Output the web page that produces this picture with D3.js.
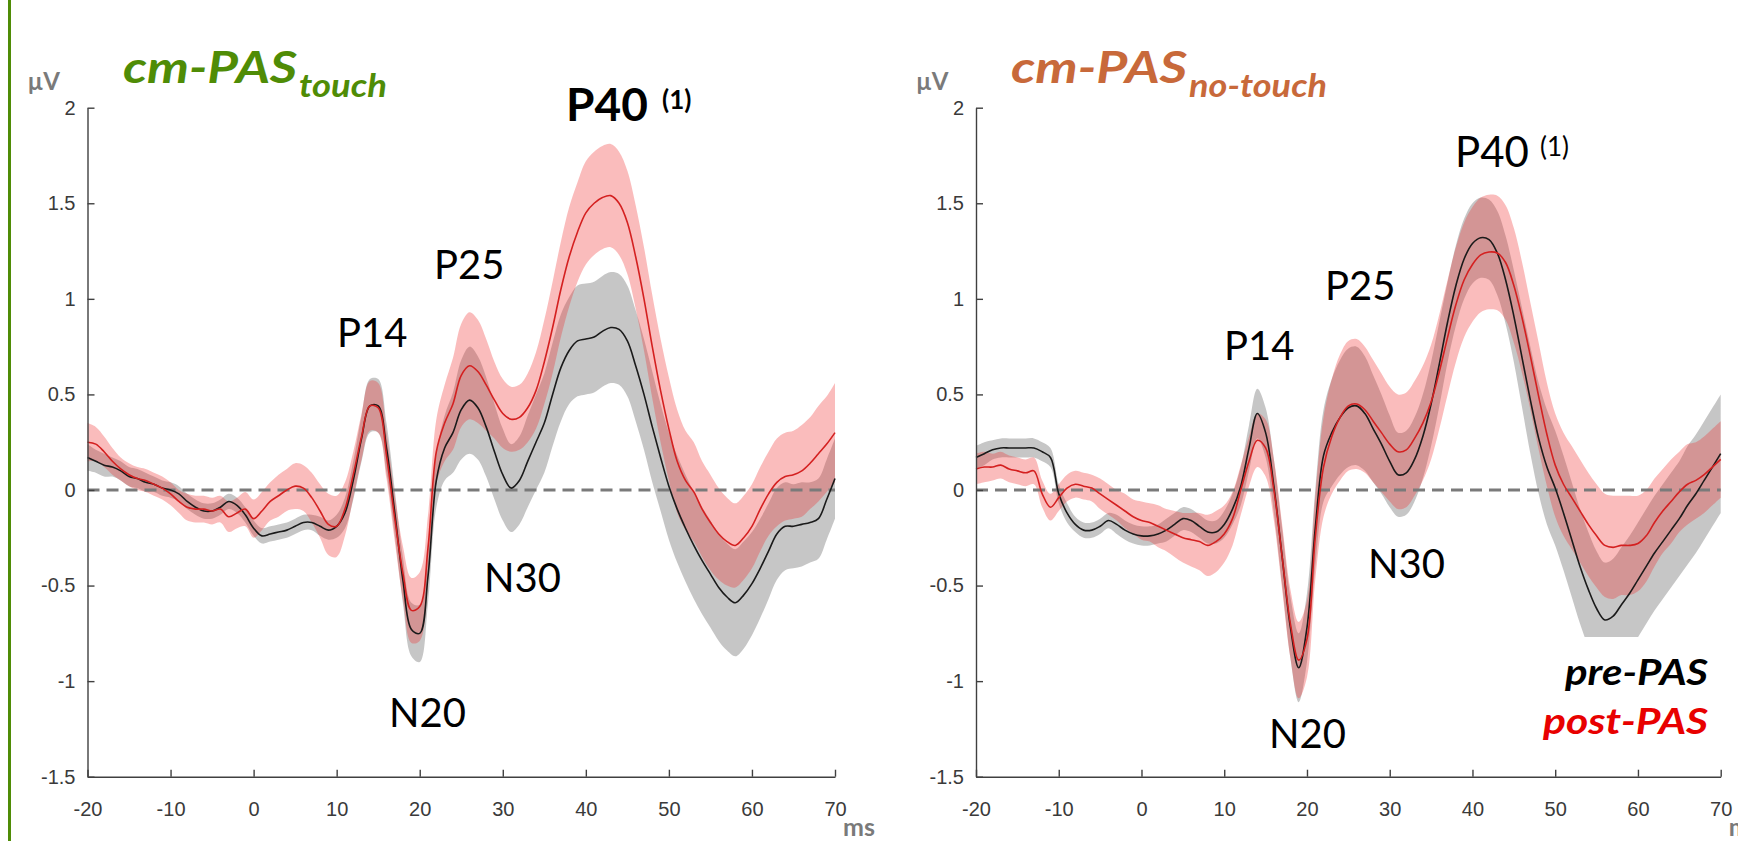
<!DOCTYPE html>
<html>
<head>
<meta charset="utf-8">
<title>cm-PAS SEP</title>
<script src="https://cdn.jsdelivr.net/npm/d3@7"></script>
<style>
  body { margin: 0; background: #fff; }
  text { font-family: Lato, "Open Sans", sans-serif; }
</style>
</head>
<body>
<script>
var width = 1738, height = 841;

// time axis (ms), one sample per ms
var times = d3.range(-20, 71);
var xTicks = [-20, -10, 0, 10, 20, 30, 40, 50, 60, 70];
var yTicks = [-1.5, -1, -0.5, 0, 0.5, 1, 1.5, 2];

// cm-PAS touch: grand average (µV) and shaded error, pre and post
var touchPre = [0.17,0.15,0.13,0.12,0.10,0.07,0.06,0.04,0.03,0.01,
  0.00,-0.02,-0.06,-0.09,-0.11,-0.11,-0.09,-0.06,-0.08,-0.13,
  -0.20,-0.24,-0.23,-0.22,-0.21,-0.19,-0.17,-0.17,-0.19,-0.21,
  -0.19,-0.12,0.05,0.27,0.44,0.44,0.22,-0.12,-0.48,-0.73,
  -0.75,-0.45,0.05,0.22,0.30,0.42,0.47,0.43,0.33,0.20,
  0.08,0.01,0.05,0.15,0.25,0.35,0.50,0.64,0.73,0.78,
  0.79,0.80,0.83,0.85,0.84,0.78,0.65,0.50,0.33,0.17,
  0.02,-0.10,-0.20,-0.29,-0.37,-0.44,-0.51,-0.56,-0.59,-0.55,
  -0.49,-0.41,-0.32,-0.23,-0.19,-0.19,-0.18,-0.17,-0.15,-0.05,
  0.06];
var touchPreErr = [0.07,0.06,0.06,0.05,0.05,0.05,0.05,0.05,0.04,0.04,
  0.04,0.04,0.04,0.04,0.04,0.04,0.04,0.04,0.04,0.04,
  0.04,0.04,0.04,0.04,0.04,0.04,0.04,0.04,0.05,0.05,
  0.06,0.08,0.10,0.12,0.14,0.14,0.13,0.12,0.12,0.14,
  0.15,0.14,0.14,0.17,0.21,0.26,0.28,0.27,0.26,0.25,
  0.24,0.23,0.23,0.24,0.25,0.26,0.27,0.28,0.28,0.29,
  0.29,0.29,0.29,0.29,0.29,0.29,0.29,0.29,0.29,0.28,
  0.28,0.28,0.28,0.28,0.28,0.28,0.28,0.28,0.28,0.28,
  0.27,0.26,0.25,0.24,0.23,0.22,0.22,0.21,0.21,0.21,
  0.21];
var touchPost = [0.25,0.24,0.20,0.15,0.11,0.08,0.06,0.05,0.03,0.01,
  -0.02,-0.06,-0.09,-0.10,-0.10,-0.11,-0.10,-0.14,-0.12,-0.10,
  -0.15,-0.11,-0.06,-0.03,0.00,0.02,0.01,-0.04,-0.11,-0.18,
  -0.19,-0.10,0.08,0.28,0.44,0.43,0.18,-0.15,-0.44,-0.63,
  -0.61,-0.30,0.20,0.35,0.45,0.60,0.65,0.62,0.55,0.47,
  0.40,0.37,0.38,0.43,0.52,0.67,0.85,1.05,1.22,1.35,
  1.45,1.50,1.53,1.54,1.50,1.40,1.22,1.00,0.75,0.52,
  0.32,0.15,0.05,-0.01,-0.10,-0.17,-0.23,-0.27,-0.29,-0.25,
  -0.19,-0.10,-0.02,0.04,0.07,0.08,0.10,0.14,0.19,0.24,
  0.30];
var touchPostErr = [0.10,0.09,0.08,0.07,0.06,0.06,0.06,0.06,0.06,0.06,
  0.06,0.06,0.07,0.07,0.07,0.07,0.07,0.08,0.08,0.09,
  0.10,0.10,0.10,0.11,0.11,0.12,0.12,0.13,0.14,0.16,
  0.16,0.14,0.12,0.12,0.13,0.13,0.12,0.12,0.14,0.17,
  0.18,0.17,0.17,0.20,0.24,0.27,0.28,0.27,0.24,0.20,
  0.18,0.17,0.17,0.18,0.20,0.22,0.24,0.25,0.26,0.26,
  0.27,0.27,0.27,0.27,0.27,0.27,0.27,0.27,0.27,0.27,
  0.27,0.27,0.26,0.26,0.25,0.25,0.24,0.23,0.22,0.22,
  0.22,0.22,0.22,0.23,0.23,0.23,0.24,0.24,0.25,0.25,
  0.26];

// cm-PAS no-touch
var noTouchPre = [0.17,0.19,0.21,0.22,0.22,0.22,0.22,0.22,0.20,0.17,
  -0.02,-0.12,-0.18,-0.21,-0.21,-0.19,-0.16,-0.18,-0.21,-0.23,
  -0.24,-0.24,-0.23,-0.21,-0.18,-0.15,-0.16,-0.19,-0.22,-0.22,
  -0.18,-0.10,0.02,0.22,0.40,0.30,0.02,-0.35,-0.72,-0.93,
  -0.72,-0.20,0.18,0.30,0.38,0.43,0.44,0.40,0.32,0.24,
  0.15,0.08,0.09,0.16,0.28,0.45,0.66,0.88,1.07,1.21,
  1.29,1.32,1.31,1.24,1.10,0.91,0.69,0.47,0.27,0.12,
  0.01,-0.12,-0.26,-0.40,-0.52,-0.62,-0.68,-0.66,-0.60,-0.54,
  -0.47,-0.40,-0.33,-0.27,-0.21,-0.15,-0.08,-0.02,0.05,0.12,
  0.19];
var noTouchPreErr = [0.06,0.06,0.05,0.05,0.05,0.05,0.05,0.05,0.05,0.05,
  0.05,0.05,0.04,0.04,0.04,0.04,0.04,0.05,0.05,0.05,
  0.05,0.05,0.05,0.06,0.06,0.06,0.06,0.06,0.06,0.06,
  0.07,0.08,0.10,0.12,0.13,0.13,0.14,0.15,0.16,0.18,
  0.18,0.20,0.24,0.28,0.30,0.31,0.31,0.30,0.28,0.26,
  0.24,0.22,0.22,0.22,0.22,0.22,0.22,0.21,0.21,0.21,
  0.21,0.21,0.21,0.22,0.23,0.24,0.26,0.28,0.29,0.30,
  0.30,0.30,0.30,0.30,0.30,0.30,0.30,0.30,0.30,0.30,
  0.30,0.30,0.30,0.30,0.30,0.30,0.31,0.31,0.31,0.31,
  0.31];
var noTouchPost = [0.11,0.12,0.12,0.13,0.11,0.10,0.09,0.10,-0.02,-0.09,
  -0.04,0.01,0.03,0.02,0.01,-0.02,-0.05,-0.08,-0.11,-0.14,
  -0.16,-0.17,-0.19,-0.21,-0.23,-0.25,-0.26,-0.27,-0.29,-0.27,
  -0.23,-0.15,0.00,0.15,0.26,0.22,0.00,-0.35,-0.70,-0.89,
  -0.78,-0.25,0.12,0.28,0.38,0.44,0.45,0.42,0.36,0.30,
  0.24,0.20,0.21,0.27,0.35,0.46,0.62,0.80,0.97,1.10,
  1.18,1.23,1.245,1.24,1.19,1.07,0.90,0.70,0.49,0.29,
  0.13,0.03,-0.04,-0.11,-0.18,-0.24,-0.29,-0.30,-0.29,-0.29,
  -0.28,-0.24,-0.17,-0.11,-0.06,-0.01,0.03,0.05,0.08,0.12,
  0.16];
var noTouchPostErr = [0.08,0.08,0.07,0.07,0.07,0.07,0.07,0.07,0.07,0.07,
  0.07,0.07,0.07,0.07,0.07,0.08,0.08,0.08,0.09,0.09,
  0.10,0.10,0.11,0.11,0.12,0.13,0.14,0.15,0.16,0.16,
  0.15,0.14,0.13,0.13,0.14,0.15,0.16,0.17,0.18,0.20,
  0.20,0.22,0.26,0.30,0.33,0.34,0.34,0.33,0.32,0.31,
  0.30,0.30,0.30,0.30,0.30,0.30,0.30,0.30,0.30,0.30,
  0.30,0.30,0.30,0.30,0.30,0.30,0.29,0.28,0.28,0.27,
  0.27,0.27,0.27,0.27,0.27,0.27,0.27,0.27,0.26,0.26,
  0.25,0.24,0.23,0.22,0.22,0.21,0.21,0.20,0.20,0.20,
  0.20];

var svg = d3.select("body").append("svg")
  .attr("width", width)
  .attr("height", height);

// green bar on the left edge
svg.append("line")
  .attr("x1", 9.5).attr("x2", 9.5).attr("y1", 0).attr("y2", height)
  .attr("stroke", "#4f8c06").attr("stroke-width", 3);

var panels = [
  { x0: 87.5, x1: 835, pre: touchPre, preErr: touchPreErr, post: touchPost, postErr: touchPostErr,
    title: "cm-PAS", sub: "touch", color: "#4f8c06",
    titleX: 123, titleW: 174, subW: 88,
    labels: [
      { t: "P14", x: 337, y: 347 }, { t: "P25", x: 434, y: 279 },
      { t: "N30", x: 484, y: 592 }, { t: "N20", x: 389, y: 727 }
    ],
    p40: { x: 566, y: 121, bold: true, supX: 662, supY: 109 } },
  { x0: 976, x1: 1720.7, pre: noTouchPre, preErr: noTouchPreErr, post: noTouchPost, postErr: noTouchPostErr,
    title: "cm-PAS", sub: "no-touch", color: "#c8693a",
    titleX: 1011, titleW: 176, subW: 138,
    labels: [
      { t: "P14", x: 1224, y: 360 }, { t: "P25", x: 1325, y: 300 },
      { t: "N30", x: 1368, y: 578 }, { t: "N20", x: 1269, y: 748 }
    ],
    p40: { x: 1455, y: 167, bold: false, supX: 1540, supY: 156 } }
];

var y = d3.scaleLinear().domain([-1.5, 2]).range([776.7, 107.7]);

panels.forEach(function(p, pi) {
  var x = d3.scaleLinear().domain([-20, 70]).range([p.x0, p.x1]);
  var g = svg.append("g");

  var band = function(mean, err) {
    return d3.area()
      .x(function(d, i) { return x(times[i]); })
      .y0(function(d, i) { return y(mean[i] - err[i]); })
      .y1(function(d, i) { return y(mean[i] + err[i]); })
      .curve(d3.curveCatmullRom.alpha(0.5))(mean);
  };
  var line = d3.line()
    .x(function(d, i) { return x(times[i]); })
    .y(function(d) { return y(d); })
    .curve(d3.curveCatmullRom.alpha(0.5));

  g.append("path").attr("d", band(p.pre, p.preErr))
    .attr("fill", "#808080").attr("fill-opacity", 0.45);
  g.append("path").attr("d", band(p.post, p.postErr))
    .attr("fill", "#f03030").attr("fill-opacity", 0.32);

  if (pi == 1) {
    // white box behind the legend hides part of the shading
    g.append("rect").attr("x", 1576).attr("y", 637)
      .attr("width", 170).attr("height", 134).attr("fill", "#fff");
  }

  // zero line
  g.append("line")
    .attr("x1", x(-20)).attr("x2", x(70)).attr("y1", y(0)).attr("y2", y(0))
    .attr("stroke", "#7a7a7a").attr("stroke-width", 3)
    .attr("stroke-dasharray", "12,7");

  g.append("path").attr("d", line(p.pre))
    .attr("fill", "none").attr("stroke", "#1a1a1a").attr("stroke-width", 1.6);
  g.append("path").attr("d", line(p.post))
    .attr("fill", "none").attr("stroke", "#d42020").attr("stroke-width", 1.6);

  // axes, MATLAB style ticks pointing inward
  var ax = g.append("g").attr("transform", "translate(0," + y(-1.5) + ")")
    .call(d3.axisBottom(x).tickValues(xTicks).tickFormat(function(d) { return String(d); })
      .tickSizeInner(-7).tickSizeOuter(0).tickPadding(25));
  var ay = g.append("g").attr("transform", "translate(" + x(-20) + ",0)")
    .call(d3.axisLeft(y).tickValues(yTicks).tickFormat(function(d) { return String(d); })
      .tickSizeInner(-7).tickSizeOuter(0).tickPadding(12));
  [ax, ay].forEach(function(a) {
    a.select(".domain").attr("stroke", "#404040").attr("stroke-width", 1.4);
    a.selectAll(".tick line").attr("stroke", "#404040").attr("stroke-width", 1.4);
    a.selectAll(".tick text").attr("fill", "#3a3a3a")
      .style("font-family", "'Liberation Sans', Arial, sans-serif").style("font-size", "20px");
  });

  // unit labels
  g.append("text").attr("x", p.x0 - 60).attr("y", 90).text("µV")
    .attr("fill", "#7a7a7a").style("font-weight", "bold").style("font-size", "24px");
  g.append("text").attr("x", p.x1 + 8).attr("y", 836).text("ms")
    .attr("fill", "#7a7a7a").style("font-weight", "bold").style("font-size", "25px");

  // panel title with subscript
  g.append("text").attr("x", p.titleX).attr("y", 83).text(p.title)
    .attr("fill", p.color).style("font-weight", "bold").style("font-style", "italic")
    .style("font-size", "43px").attr("textLength", p.titleW).attr("lengthAdjust", "spacingAndGlyphs");
  g.append("text").attr("x", p.titleX + p.titleW + 2).attr("y", 97).text(p.sub)
    .attr("fill", p.color).style("font-weight", "bold").style("font-style", "italic")
    .style("font-size", "32px").attr("textLength", p.subW).attr("lengthAdjust", "spacingAndGlyphs");

  // component labels
  g.selectAll("text.comp").data(p.labels).enter().append("text")
    .attr("class", "comp")
    .attr("x", function(d) { return d.x; }).attr("y", function(d) { return d.y; })
    .text(function(d) { return d.t; })
    .attr("fill", "#000").style("font-size", "40px");
  g.append("text").attr("x", p.p40.x).attr("y", p.p40.y).text("P40")
    .attr("fill", "#000").style("font-size", p.p40.bold ? "46px" : "42px")
    .style("font-weight", p.p40.bold ? "bold" : "normal");
  g.append("text").attr("x", p.p40.supX).attr("y", p.p40.supY).text("(1)")
    .attr("fill", "#000").style("font-size", "26px")
    .style("font-weight", p.p40.bold ? "bold" : "normal");
});

// legend
svg.append("text").attr("x", 1708).attr("y", 685).attr("text-anchor", "end").text("pre-PAS")
  .attr("fill", "#000").style("font-weight", "bold").style("font-style", "italic")
  .style("font-size", "37px").attr("textLength", 143).attr("lengthAdjust", "spacingAndGlyphs");
svg.append("text").attr("x", 1708).attr("y", 734).attr("text-anchor", "end").text("post-PAS")
  .attr("fill", "#e80000").style("font-weight", "bold").style("font-style", "italic")
  .style("font-size", "36px").attr("textLength", 165).attr("lengthAdjust", "spacingAndGlyphs");
</script>
</body>
</html>
